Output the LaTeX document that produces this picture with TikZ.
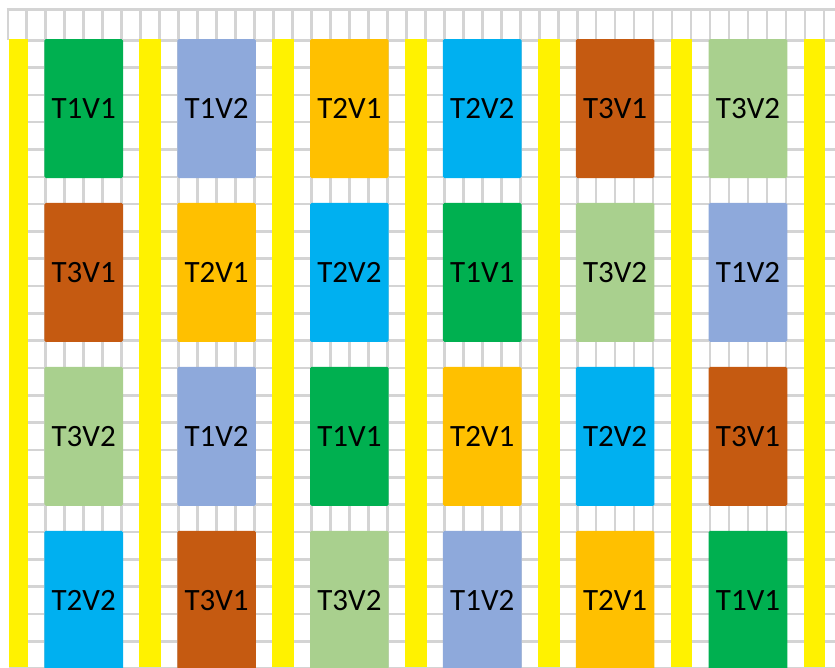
\documentclass[tikz,border=0pt]{standalone}
\usepackage{fontspec}
\setmainfont{Carlito}
\definecolor{gridgray}{RGB}{212,212,212}
\definecolor{T1V1}{HTML}{00B050}
\definecolor{T1V2}{HTML}{8EA9DB}
\definecolor{T2V1}{HTML}{FFC000}
\definecolor{T2V2}{HTML}{00B0F0}
\definecolor{T3V1}{HTML}{C55A11}
\definecolor{T3V2}{HTML}{A9D08E}
\begin{document}
\begin{tikzpicture}[x=1pt, y=-1pt,
  gridline/.style={gridgray, line width=2.6pt},
  plotbox/.style={rounded corners=1.5pt, minimum width=78.6pt, minimum height=139pt, inner sep=0pt, font=\fontsize{31}{36}\selectfont}]
\useasboundingbox (0,0) rectangle (835,667);
\clip (0,0) rectangle (835,667);
% sheet grid
\draw[gridline] (7.8,8) -- (7.8,40.2);
\foreach \k in {1,...,44} \draw[gridline] ({7.8+18.98*\k},8) -- ({7.8+18.98*\k},667);
\draw[gridline] (6.5,9.3) -- (835,9.3);
\foreach \j in {0,...,23} \draw[gridline] (9.4,{40.2+27.32*\j}) -- (835,{40.2+27.32*\j});
% yellow guard rows
\foreach \c in {0,...,6} \fill[yellow] ({max(9.4,7.8+132.86*\c-1.3)},39.2) rectangle ({7.8+132.86*\c+18.98+1.3},667);
% plots
\foreach \lab [count=\n from 0] in {T1V1,T1V2,T2V1,T2V2,T3V1,T3V2,
                                    T3V1,T2V1,T2V2,T1V1,T3V2,T1V2,
                                    T3V2,T1V2,T1V1,T2V1,T2V2,T3V1,
                                    T2V2,T3V1,T3V2,T1V2,T2V1,T1V1} {
  \pgfmathtruncatemacro{\r}{\n/6}
  \pgfmathtruncatemacro{\c}{\n-6*\r}
  \node[plotbox, fill=\lab] (blk-\r-\c) at ({83.7+132.86*\c},{108.5+163.92*\r}) {\lab};
}
\end{tikzpicture}
\end{document}
